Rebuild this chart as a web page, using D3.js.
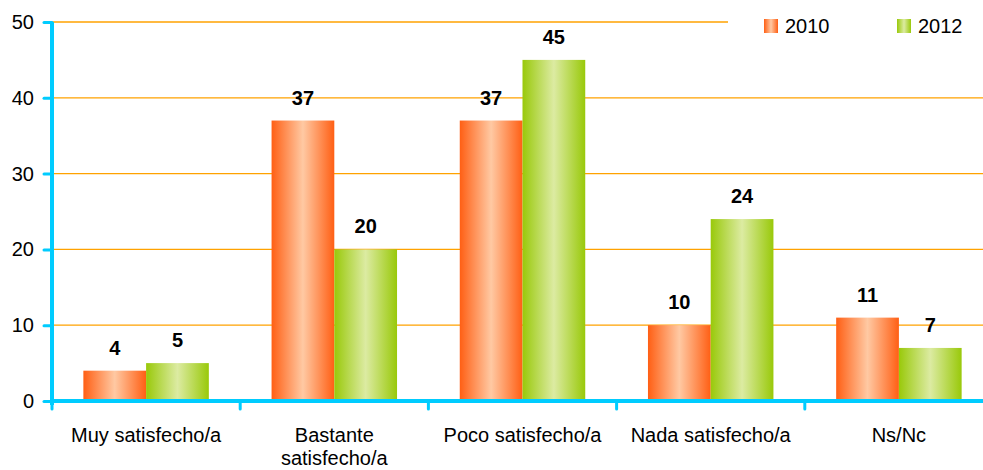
<!DOCTYPE html>
<html><head><meta charset="utf-8">
<script src="https://cdn.jsdelivr.net/npm/d3@7"></script>
<style>body{margin:0;background:#fff}svg{display:block;font-family:Arial,"Liberation Sans",sans-serif}</style>
</head><body><svg id="c" width="983" height="470"></svg>
<script>
const categories = [["Muy satisfecho/a"], ["Bastante", "satisfecho/a"], ["Poco satisfecho/a"], ["Nada satisfecho/a"], ["Ns/Nc"]];
const seriesNames = ["2010", "2012"];
const values2010 = [4, 37, 37, 10, 11];
const values2012 = [5, 20, 45, 24, 7];
const yTicks = [0, 10, 20, 30, 40, 50];

(function () {
const svg = d3.select("#c");
const mLeft = 52, mRight = 993, mTop = 22, mBottom = 401;
const FS = 20;
const x = d3.scaleBand().domain(d3.range(categories.length)).range([mLeft, mRight]).paddingInner(0).paddingOuter(0);
const y = d3.scaleLinear().domain([0, 50]).range([mBottom, mTop]);
const sub = d3.scaleBand().domain(seriesNames).range([0, x.bandwidth()]).paddingOuter(0.5).paddingInner(0);

const defs = svg.append("defs");
function grad(id, edge, mid) {
  const g = defs.append("linearGradient").attr("id", id).attr("x1", "0").attr("x2", "1").attr("y1", "0").attr("y2", "0");
  g.append("stop").attr("offset", "0%").attr("stop-color", edge);
  g.append("stop").attr("offset", "50%").attr("stop-color", mid);
  g.append("stop").attr("offset", "100%").attr("stop-color", edge);
}
grad("g2010", "#ff5f14", "#ffc9a3");
grad("g2012", "#99c90a", "#dcebA2");
const fills = {"2010": "url(#g2010)", "2012": "url(#g2012)"};

// gridlines
svg.append("g").selectAll("line").data(yTicks.filter(d => d > 0)).join("line")
  .attr("x1", mLeft).attr("x2", 983).attr("y1", d => y(d)).attr("y2", d => y(d))
  .attr("stroke", "#ffa200").attr("stroke-width", 1.3);

// bars
const data = [];
categories.forEach((c, i) => {
  data.push({i, s: "2010", v: values2010[i]});
  data.push({i, s: "2012", v: values2012[i]});
});
svg.append("g").selectAll("rect").data(data).join("rect")
  .attr("x", d => x(d.i) + sub(d.s)).attr("width", sub.bandwidth())
  .attr("y", d => y(d.v)).attr("height", d => y(0) - y(d.v))
  .attr("fill", d => fills[d.s]);

svg.append("g").selectAll("text").data(data).join("text")
  .attr("x", d => x(d.i) + sub(d.s) + sub.bandwidth() / 2)
  .attr("y", d => y(d.v) - 16)
  .attr("text-anchor", "middle").attr("font-weight", "bold").attr("font-size", FS)
  .attr("fill", "#000").text(d => d.v);

// legend
const lg = svg.append("g");
lg.append("rect").attr("x", 728).attr("y", 8).attr("width", 255).attr("height", 36).attr("fill", "#fff");
seriesNames.forEach((s, k) => {
  const lx = [764, 897][k];
  lg.append("rect").attr("x", lx).attr("y", 19).attr("width", 14).attr("height", 14).attr("fill", fills[s]);
  lg.append("text").attr("x", lx + 21).attr("y", 33).attr("font-size", FS).attr("fill", "#000").text(s);
});

// y axis
const axisColor = "#00ccff";
const ya = svg.append("g").attr("transform", `translate(${mLeft},0)`)
  .call(d3.axisLeft(y).tickValues(yTicks).tickSize(8).tickPadding(10));
ya.select(".domain").remove();
ya.selectAll(".tick line").attr("stroke", axisColor).attr("stroke-width", 3).attr("stroke-linecap", "round");
ya.selectAll(".tick text").attr("font-size", FS).attr("fill", "#000").attr("font-family", "Arial, Liberation Sans, sans-serif");
svg.append("line").attr("x1", mLeft).attr("x2", mLeft).attr("y1", mTop).attr("y2", mBottom + 4)
  .attr("stroke", axisColor).attr("stroke-width", 4);

// x axis
svg.append("line").attr("x1", mLeft - 1).attr("x2", 983).attr("y1", mBottom).attr("y2", mBottom)
  .attr("stroke", axisColor).attr("stroke-width", 4);
svg.append("g").selectAll("line").data(d3.range(categories.length)).join("line")
  .attr("x1", d => x(d)).attr("x2", d => x(d)).attr("y1", mBottom).attr("y2", mBottom + 8)
  .attr("stroke", axisColor).attr("stroke-width", 3).attr("stroke-linecap", "round");

const xl = svg.append("g").selectAll("text").data(categories).join("text")
  .attr("x", (d, i) => x(i) + x.bandwidth() / 2).attr("y", 442)
  .attr("text-anchor", "middle").attr("font-size", FS).attr("fill", "#000");
xl.each(function(d) {
  const t = d3.select(this);
  d.forEach((line, j) => t.append("tspan").attr("x", t.attr("x")).attr("dy", j === 0 ? 0 : 23).text(line));
});
})();
</script></body></html>
